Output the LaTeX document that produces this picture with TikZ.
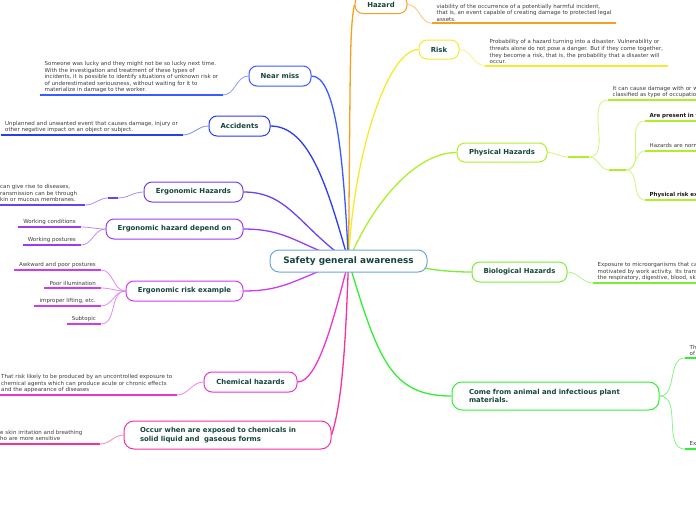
\documentclass[tikz,border=0pt]{standalone}
\usepackage{fontspec}
\setmainfont{DejaVu Sans}
\pgfdeclarelayer{bg}
\pgfsetlayers{bg,main}
\definecolor{cCenter}{HTML}{6CA6DC}
\definecolor{cOrange}{HTML}{F4A020}
\definecolor{cYellow}{HTML}{F5EA30}
\definecolor{cPhys}{HTML}{AEEF2A}
\definecolor{cBio}{HTML}{7CEB3A}
\definecolor{cCome}{HTML}{33EE33}
\definecolor{cNear}{HTML}{3A5BFF}
\definecolor{cAcc}{HTML}{2B3BF0}
\definecolor{cErgH}{HTML}{7040F0}
\definecolor{cErgD}{HTML}{9A3CF0}
\definecolor{cErgR}{HTML}{CD3CF0}
\definecolor{cChem}{HTML}{EC34D4}
\definecolor{cOcc}{HTML}{F7309E}
\definecolor{topictext}{HTML}{14463C}
\definecolor{leaftext}{HTML}{3C3C3C}
\newcommand{\leaffont}{\fontsize{5.5}{6.55}\selectfont}
\newcommand{\topicfont}{\fontsize{6.9}{8.6}\selectfont\bfseries}
\newcommand{\centralfont}{\fontsize{8.9}{11}\selectfont\bfseries}
\newcommand{\cutleft}[1]{\leavevmode\llap{#1}}
\begin{document}
\begin{tikzpicture}[x=1pt,y=-1pt,
  topic/.style={draw=#1, line width=1pt, rounded corners=8pt, fill=white, font=\topicfont, text=topictext, inner sep=0pt},
  central/.style={draw=cCenter, line width=1pt, rounded corners=9pt, fill=white, font=\centralfont, text=topictext, inner sep=0pt, minimum width=157pt, minimum height=22pt},
  leaf/.style={font=\leaffont, text=leaftext, inner xsep=4.5pt, inner ysep=1.8pt, align=left},
  leafb/.style={leaf, font=\leaffont\bfseries, text=black!90},
  leafr/.style={leaf, align=right, inner xsep=5pt},
  ul/.style={line width=1.8pt, draw=#1},
  br/.style={line width=1.3pt, draw=#1},
  tw/.style={line width=0.8pt, draw=#1!60}]
\useasboundingbox (0,0) rectangle (696,520);
\clip (0,0) rectangle (696,520);

% central and main topics
\node[central] (cc) at (348.5,261) {Safety general awareness};
\node[topic=cOrange, minimum width=52pt, minimum height=18pt] (hz) at (381,4.5) {Hazard};
\node[topic=cYellow, minimum width=40pt, minimum height=19pt] (rk) at (439,49.5) {Risk};
\node[topic=cPhys, minimum width=90pt, minimum height=19pt] (ph) at (502,152.5) {Physical Hazards};
\node[topic=cBio, minimum width=95pt, minimum height=20pt] (bh) at (519.5,272) {Biological Hazards};
\node[topic=cCome, rounded corners=10pt, minimum width=207pt, minimum height=28pt, text width=173pt, inner xsep=17pt, align=left] (cf) at (555.5,396) {Come from animal and infectious plant\\materials.};
\node[topic=cNear, minimum width=62pt, minimum height=20pt] (nm) at (280,76) {Near miss};
\node[topic=cAcc, minimum width=61pt, minimum height=20pt] (ac) at (239.5,126) {Accidents};
\node[topic=cErgH, minimum width=99pt, minimum height=20pt] (eh) at (193.5,192) {Ergonomic Hazards};
\node[topic=cErgD, minimum width=137pt, minimum height=20pt] (ed) at (174.5,229) {Ergonomic hazard depend on};
\node[topic=cErgR, minimum width=117pt, minimum height=20pt] (er) at (184.5,291) {Ergonomic risk example};
\node[topic=cChem, minimum width=93pt, minimum height=20pt] (ch) at (250.5,382) {Chemical hazards};
\node[topic=cOcc, rounded corners=10pt, minimum width=207pt, minimum height=28pt, text width=175pt, inner xsep=16pt, align=left] (oc) at (227.5,435) {Occur when are exposed to chemicals in\\solid liquid and\ \ gaseous forms};

% leaves right
\node[leaf, anchor=south west] (hzl) at (432,23.3) {viability of the occurrence of a potentially harmful incident,\\that is, an event capable of creating damage to protected legal\\assets.};
\node[leaf, anchor=south west] (rkl) at (485,65.7) {Probability of a hazard turning into a disaster. Vulnerability or\\threats alone do not pose a danger. But if they come together,\\they become a risk, that is, the probability that a disaster will\\occur.};
\coordinate (p1a) at (568,157);
\coordinate (p1b) at (589,157);
\coordinate (p2a) at (609,170);
\coordinate (p2b) at (626,170);
\node[leaf, anchor=south west, text width=200pt] (phl1) at (608,100) {It can cause damage with or without contact. They are\\classified as type of occupational hazards.};
\node[leafb, anchor=south west, text width=120pt] (phl2) at (645,121) {Are present in the workplace};
\node[leaf, anchor=south west, text width=120pt] (phl3) at (645,151) {Hazards are normally present};
\node[leafb, anchor=south west, text width=120pt] (phl4) at (645,200) {Physical risk examples};
\node[leaf, anchor=south west, text width=220pt] (bhl) at (593,283) {Exposure to microorganisms that can give rise to diseases,\\motivated by work activity. Its transmission can be through\\the respiratory, digestive, blood, skin or mucous membranes.};
\node[leaf, anchor=south west, text width=60pt] (cfl1) at (685,358) {These\\of the};
\node[leaf, anchor=south west, text width=60pt] (cfl2) at (685,449) {Examples};

% leaves left
\node[leaf, anchor=south west] (nml) at (40,95) {Someone was lucky and they might not be so lucky next time.\\With the investigation and treatment of these types of\\incidents, it is possible to identify situations of unknown risk or\\of underestimated seriousness, without waiting for it to\\materialize in damage to the worker.};
\node[leaf, anchor=south west] (acl) at (0.5,135) {Unplanned and unwanted event that causes damage, injury or\\other negative impact on an object or subject.};
\coordinate (e1a) at (108,198);
\coordinate (e1b) at (118,198);
\node[leaf, anchor=south west, text width=80.5pt] (ehl) at (-4.5,205) {\cutleft{Exposure to microorganisms that }can give rise to diseases,\\\cutleft{motivated by work activity. Its t}ransmission can be through\\\cutleft{the respiratory, digestive, blood, s}kin or mucous membranes.};
\node[leafr, anchor=south east] (edl1) at (81,227) {Working conditions};
\node[leafr, anchor=south east] (edl2) at (81,245) {Working postures};
\node[leafr, anchor=south east] (erl1) at (101,270) {Awkward and poor postures};
\node[leafr, anchor=south east] (erl2) at (101,288) {Poor illumination};
\node[leafr, anchor=south east] (erl3) at (101,306) {improper lifting, etc.};
\node[leafr, anchor=south east] (erl4) at (101,324) {Subtopic};
\node[leaf, anchor=south west] (chl) at (-3.5,395) {That risk likely to be produced by an uncontrolled exposure to\\chemical agents which can produce acute or chronic effects\\and the appearance of diseases};
\node[leaf, anchor=south west, text width=95.5pt] (ocl) at (-4.5,444) {\cutleft{Exposure to chemicals can caus}e skin irritation and breathing\\\cutleft{problems in people w}ho are more sensitive};

\begin{pgfonlayer}{bg}
% main branches
\draw[br=cOrange] (cc.center) .. controls +(2,-200) and +(-5,25) .. (hz.west);
\draw[br=cYellow] (cc.center) .. controls +(5,-110) and +(-30,0) .. (rk.west);
\draw[br=cPhys] (cc.center) .. controls +(25,-60) and +(-40,0) .. (ph.west);
\draw[br=cBio] (cc.center) .. controls +(60,0) and +(-50,0) .. (bh.west);
\draw[br=cCome] (cc.center) .. controls +(30,100) and +(-60,0) .. (cf.west);
\draw[br=cNear] (nm.east) .. controls +(25,0) and +(-5,-100) .. (cc.center);
\draw[br=cAcc] (ac.east) .. controls +(40,0) and +(-20,-70) .. (cc.center);
\draw[br=cErgH] (eh.east) .. controls +(45,0) and +(-50,-35) .. (cc.center);
\draw[br=cErgD] (ed.east) .. controls +(45,0) and +(-50,-15) .. (cc.center);
\draw[br=cErgR] (er.east) .. controls +(45,0) and +(-50,15) .. (cc.center);
\draw[br=cChem] (ch.east) .. controls +(20,0) and +(-15,60) .. (cc.center);
\draw[br=cOcc] (oc.east) .. controls +(10,-30) and +(-3,90) .. (cc.center);

% thin connectors right
\draw[tw=cOrange] (hz.east) to[out=0,in=180] (hzl.south west);
\draw[tw=cYellow] (rk.east) to[out=0,in=180] (rkl.south west);
\draw[tw=cPhys] (ph.east) to[out=0,in=180] (p1a);
\draw[tw=cPhys] (p1b) to[out=0,in=180] (phl1.south west);
\draw[tw=cPhys] (p1b) to[out=0,in=180] (p2a);
\draw[tw=cPhys] (p2b) to[out=0,in=180] (phl2.south west);
\draw[tw=cPhys] (p2b) to[out=0,in=180] (phl3.south west);
\draw[tw=cPhys] (p2b) to[out=0,in=180] (phl4.south west);
\draw[tw=cBio] (bh.east) to[out=0,in=180] (bhl.south west);
\draw[tw=cCome] (cf.east) to[out=0,in=180] (cfl1.south west);
\draw[tw=cCome] (cf.east) to[out=0,in=180] (cfl2.south west);
% thin connectors left
\draw[tw=cNear] (nm.west) to[out=180,in=0] (nml.south east);
\draw[tw=cAcc] (ac.west) to[out=180,in=0] (acl.south east);
\draw[tw=cErgH] (eh.west) to[out=180,in=0] (e1b);
\draw[tw=cErgH] (e1a) to[out=180,in=0] (ehl.south east);
\draw[tw=cErgD] (ed.west) to[out=180,in=0] (edl1.south east);
\draw[tw=cErgD] (ed.west) to[out=180,in=0] (edl2.south east);
\draw[tw=cErgR] (er.west) to[out=180,in=0] (erl1.south east);
\draw[tw=cErgR] (er.west) to[out=180,in=0] (erl2.south east);
\draw[tw=cErgR] (er.west) to[out=180,in=0] (erl3.south east);
\draw[tw=cErgR] (er.west) to[out=180,in=0] (erl4.south east);
\draw[tw=cChem] (ch.west) to[out=180,in=0] (chl.south east);
\draw[tw=cOcc] (oc.west) to[out=180,in=0] (ocl.south east);
\end{pgfonlayer}

% underlines and bars
\foreach \n/\c in {hzl/cOrange, rkl/cYellow, phl1/cPhys, phl2/cPhys, phl3/cPhys, phl4/cPhys, bhl/cBio, cfl1/cCome, cfl2/cCome, nml/cNear, acl/cAcc, ehl/cErgH, edl1/cErgD, edl2/cErgD, erl1/cErgR, erl2/cErgR, erl3/cErgR, erl4/cErgR, chl/cChem, ocl/cOcc}
  \draw[ul=\c] (\n.south west) -- (\n.south east);
\draw[ul=cPhys] (p1a) -- (p1b);
\draw[ul=cPhys] (p2a) -- (p2b);
\draw[ul=cErgH] (e1a) -- (e1b);
\end{tikzpicture}
\end{document}
